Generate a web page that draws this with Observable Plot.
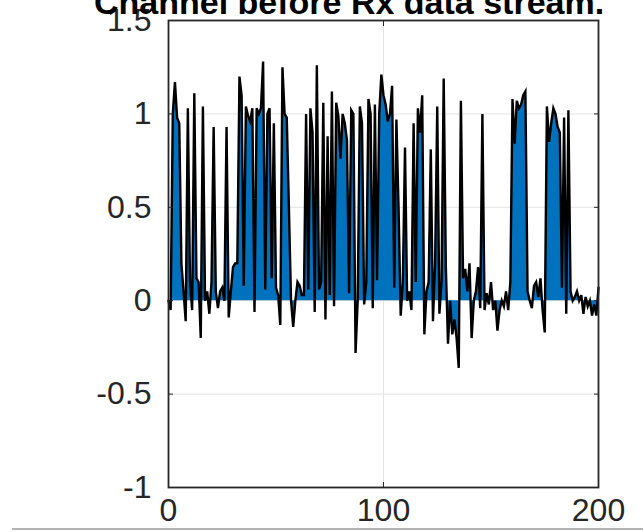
<!DOCTYPE html>
<html>
<head>
<meta charset="utf-8">
<script src="https://cdn.jsdelivr.net/npm/d3@7"></script>
<script src="https://cdn.jsdelivr.net/npm/@observablehq/plot@0.6"></script>
<style>
  html, body { margin: 0; padding: 0; background: #fff; }
  #wrap { position: relative; width: 643px; height: 532px; overflow: hidden; }
  #title { position: absolute; left: 94px; top: -18px; white-space: nowrap;
           font-family: "Liberation Sans", Arial, sans-serif; font-weight: bold; font-size: 34px;
           line-height: 40px; color: #000; }
  #sep { position: absolute; left: 12px; right: 0; top: 528px; height: 2px; background: #b4b4b4; }
  #chart { position: absolute; left: 0; top: 0; }
</style>
</head>
<body>
<div id="wrap">
  <div id="chart"></div>
  <div id="title"></div>
  <div id="sep"></div>
</div>
<script>
const titleText = "Channel before Rx data stream.";
const xTicks = [0, 100, 200];
const yTicks = [-1, -0.5, 0, 0.5, 1, 1.5];
const gridY = [-0.5, 0, 0.5, 1];
const gridX = [100];
// received signal samples, index 0..200
const signal = [
  0.00, -0.05, 1.00, 1.17, 0.98, 0.95, 0.20, 0.05, -0.11, 1.03,
  0.10, -0.05, 1.11, 0.12, 0.10, -0.20, 1.04, 0.00, 0.05, -0.07,
  0.10, 0.93, 0.05, -0.04, 0.05, 0.07, 0.00, 0.93, -0.09, 0.05,
  0.18, 0.20, 0.20, 1.20, 1.10, 0.08, 1.04, 0.99, 0.96, 1.03,
  -0.06, 1.03, 1.00, 1.03, 1.28, 0.06, 1.00, 1.03, 0.12, 0.95,
  0.07, 0.03, -0.13, 1.25, 1.00, 0.98, 0.50, 0.00, -0.14, 0.00,
  0.10, 0.08, 0.03, 0.03, 1.00, 0.06, 1.03, 0.90, -0.06, 1.26,
  0.06, 0.10, 1.06, -0.10, 0.88, 0.03, 1.12, -0.03, 1.06, 0.99,
  0.76, 1.00, 0.95, 0.86, 0.04, 1.02, 1.00, -0.28, 0.00, 1.04,
  0.95, -0.02, 0.10, 1.08, 1.00, -0.04, 1.05, 0.11, 1.00, 1.21,
  1.10, 1.05, 0.96, 1.00, 1.15, 0.07, 0.97, 0.50, -0.08, 0.10,
  0.82, 0.00, 0.05, -0.05, 0.95, 0.10, 1.03, 0.90, 1.10, -0.18,
  0.05, 0.10, 0.81, -0.11, 0.20, 1.04, -0.07, 0.10, 1.19, 0.18,
  -0.23, 0.00, -0.18, -0.10, -0.20, -0.36, 1.07, 0.12, 0.17, 0.05,
  0.20, -0.20, 0.00, 0.05, 0.18, -0.04, 1.00, -0.05, 0.04, -0.02,
  0.10, -0.05, 0.00, -0.16, -0.05, 0.00, -0.03, 0.05, -0.05, 0.10,
  1.08, 0.84, 1.07, 1.03, 1.05, 1.10, 1.12, 0.05, 0.00, -0.04,
  0.08, 0.10, 0.02, 0.12, -0.05, -0.17, 1.04, 0.85, 0.95, 1.03,
  1.00, 0.93, 0.90, 0.07, 0.98, -0.07, 1.02, 0.05, 0.00, 0.02,
  0.05, 0.00, 0.03, -0.07, 0.02, -0.03, 0.00, -0.08, -0.02, -0.08,
  0.07
];
const sampleIndex = d3.range(signal.length);
const data = sampleIndex.map((i) => ({x: i, y: signal[i]}));

const font = '"Liberation Sans", Arial, sans-serif';
const axisColor = "#262626";

const chart = Plot.plot({
  width: 643,
  height: 532,
  marginLeft: 168,
  marginRight: 45,
  marginTop: 20,
  marginBottom: 45,
  style: {fontFamily: font, fontSize: "32px", color: axisColor, background: "white", overflow: "hidden"},
  x: {domain: [0, 200]},
  y: {domain: [-1, 1.5]},
  marks: [
    Plot.ruleY(gridY, {stroke: "#e3e3e3", strokeWidth: 1}),
    Plot.ruleX(gridX, {stroke: "#e3e3e3", strokeWidth: 1}),
    Plot.areaY(data, {x: "x", y: "y", fill: "#0072BD", curve: "linear"}),
    Plot.lineY(data, {x: "x", y: "y", stroke: "#000", strokeWidth: 2.4, strokeLinejoin: "miter", strokeMiterlimit: 4}),
    Plot.axisY({anchor: "left", ticks: yTicks, tickSize: 0, tickPadding: 17, tickFormat: (d) => String(d), label: null, fontSize: 32}),
    Plot.axisX({anchor: "bottom", ticks: xTicks, tickSize: 0, tickPadding: 11, tickFormat: (d) => String(d), label: null, fontSize: 32}),
    Plot.axisY({anchor: "left", ticks: yTicks, tickSize: -5, tickFormat: () => "", label: null, stroke: axisColor}),
    Plot.axisY({anchor: "right", ticks: yTicks, tickSize: -5, tickFormat: () => "", label: null, stroke: axisColor}),
    Plot.axisX({anchor: "bottom", ticks: xTicks, tickSize: -5, tickFormat: () => "", label: null, stroke: axisColor}),
    Plot.axisX({anchor: "top", ticks: xTicks, tickSize: -5, tickFormat: () => "", label: null, stroke: axisColor}),
    Plot.frame({stroke: axisColor, strokeWidth: 1.8})
  ]
});
document.getElementById("chart").appendChild(chart);
document.getElementById("title").textContent = titleText;
</script>
</body>
</html>
